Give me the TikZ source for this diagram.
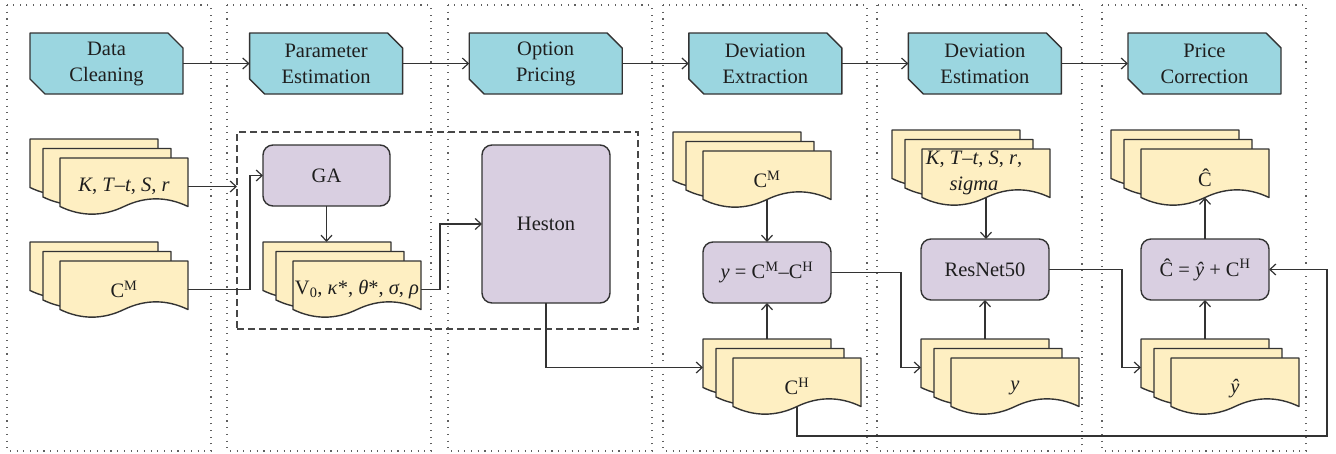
\documentclass[tikz,border=0pt]{standalone}
\usepackage{fontspec}
\setmainfont{Liberation Serif}
\usetikzlibrary{arrows.meta}

\definecolor{hdrfill}{HTML}{9BD6E0}
\definecolor{lav}{HTML}{D9CFE1}
\definecolor{paper}{HTML}{FEEFC2}
\definecolor{linec}{HTML}{333333}
\definecolor{textc}{HTML}{1E1E1E}
\definecolor{dotc}{HTML}{606060}

\newcommand\diagfont{\fontsize{20.5}{26}\selectfont}
\newcommand\ii[1]{\textit{#1}}

% stage header: chamfered box (top-right and bottom-left corners cut)
% #1 name, #2 left x, #3 top y, #4 text
\newcommand\stagebox[4]{%
  \filldraw[stageshape] (#2,#3) -- (#2+138,#3) -- (#2+153,#3+15) -- (#2+153,#3+61)
    -- (#2+15,#3+61) -- (#2,#3+46) -- cycle;
  \node[stagetext, anchor=north west] (#1) at (#2,#3) {#4};
}

% one sheet with a wavy lower edge, top-left corner at (#1,#2)
\newcommand\docsheet[2]{%
  \filldraw[sheet] (#1,#2) -- (#1+128,#2) -- (#1+128,#2+48.5)
    .. controls (#1+106.7,#2+38.3) and (#1+85.3,#2+38.3) .. (#1+64,#2+48.5)
    .. controls (#1+42.7,#2+58.7) and (#1+21.3,#2+58.7) .. (#1,#2+48.5) -- cycle;
}

% stack of three sheets; #1 label options, #2 name, #3/#4 top-left of the back sheet, #5 text
\newcommand\docstack[5][]{%
  \docsheet{#3}{#4}
  \docsheet{#3+13}{#4+9.5}
  \docsheet{#3+30}{#4+19}
  \node[sheetbox, anchor=north west] (#2b) at (#3,#4) {};
  \node[sheetbox, anchor=north west] (#2) at (#3+30,#4+19) {};
  \node[doctext, #1] (#2-label) at (#2.center) {#5};
  \coordinate (#2w) at (#3+94,#4+67.5);
}

\begin{document}
\begin{tikzpicture}[x=1pt, y=-1pt,
  panel/.style={draw=dotc, line width=1.1pt, dash pattern=on 1.1pt off 5.6pt},
  group/.style={draw=linec!90, line width=1.3pt, dash pattern=on 7pt off 4pt,
    inner sep=0pt, outer sep=0pt},
  stageshape/.style={fill=hdrfill, draw=linec, line width=1.4pt, line join=round},
  stagetext/.style={align=center, font=\diagfont, text=textc,
    minimum width=153pt, minimum height=61pt, inner sep=0pt, outer sep=0pt},
  sheet/.style={fill=paper, draw=linec, line width=1.4pt, line join=round},
  sheetbox/.style={minimum width=128pt, minimum height=57pt, inner sep=0pt, outer sep=0pt},
  doctext/.style={align=center, font=\diagfont, text=textc, inner sep=0pt},
  proc/.style={fill=lav, draw=linec, line width=1.4pt, rounded corners=10pt,
    font=\diagfont, text=textc, inner sep=0pt, outer sep=0pt, anchor=north west},
  edge/.style={draw=linec, line width=1.2pt, -{Straight Barb[length=6pt,width=11pt]}},
]
\useasboundingbox (0,0) rectangle (1336,453);

% dotted stage panels
\draw[panel] (7,5) rectangle (211,451);
\draw[panel] (227,5) rectangle (431,451);
\draw[panel] (448,5) rectangle (652,451);
\draw[panel] (663,5) rectangle (867,451);
\draw[panel] (877,5) rectangle (1082,451);
\draw[panel] (1102,5) rectangle (1306,451);

% stage headers
\stagebox{h1}{30}{33}{Data\\Cleaning}
\stagebox{h2}{249.6}{33}{Parameter\\Estimation}
\stagebox{h3}{469.2}{33}{Option\\Pricing}
\stagebox{h4}{688.8}{33}{Deviation\\Extraction}
\stagebox{h5}{908.4}{33}{Deviation\\Estimation}
\stagebox{h6}{1128}{33}{Price\\Correction}

\draw[edge] (h1.east) -- (h2.west);
\draw[edge] (h2.east) -- (h3.west);
\draw[edge] (h3.east) -- (h4.west);
\draw[edge] (h4.east) -- (h5.west);
\draw[edge] (h5.east) -- (h6.west);

% calibration group
\node[group, minimum width=401pt, minimum height=197pt, anchor=north west] (gagroup) at (237,132) {};

% data stacks
\docstack{s1}{30}{139}{\ii{K}, \ii{T}–\ii{t}, \ii{S}, \ii{r}}
\docstack{s2}{30}{242}{C\textsuperscript{M}}
\docstack{s3}{263}{242}{V\textsubscript{0}, \ii{κ}*, \ii{θ}*, \ii{σ}, \ii{ρ}}
\docstack{s4}{673}{132}{C\textsuperscript{M}}
\docstack{s5}{703}{339}{C\textsuperscript{H}}
\docstack[xshift=-12pt, yshift=5pt]{s6}{892}{130}{\ii{K}, \ii{T}–\ii{t}, \ii{S}, \ii{r},\\\ii{sigma}}
\docstack[yshift=-2pt]{s7}{921}{339}{\ii{y}}
\docstack{s8}{1111}{130}{Ĉ}
\docstack[yshift=-2pt]{s9}{1141}{339}{\ii{ŷ}}

% processing blocks
\node[proc, minimum width=127pt, minimum height=61pt] (ga) at (263,145) {GA};
\node[proc, minimum width=128pt, minimum height=158pt] (heston) at (482,145) {Heston};
\node[proc, minimum width=128pt, minimum height=61pt] (ybox) at (703,242)
  {\ii{y} = C\textsuperscript{M}–C\textsuperscript{H}};
\node[proc, minimum width=128pt, minimum height=61pt] (resnet) at (921,239) {ResNet50};
\node[proc, minimum width=128pt, minimum height=61pt] (cbox) at (1141,239)
  {Ĉ = \ii{ŷ} + C\textsuperscript{H}};

\coordinate (loop) at (1327,436);

% connectors
\draw[edge] (s1.east) -- (s1.east -| gagroup.west);
\draw[edge] (s2.east) -- ++(62,0) |- (ga.west);
\draw[edge] (ga.south) -- (ga.south |- s3b.north);
\draw[edge] (s3.east) -- ++(19,0) |- (heston.west);
\draw[edge] (heston.south) |- (s5b.west);
\draw[edge] (s4w) -- (s4w |- ybox.north);
\draw[edge] (s5b.north) -- (s5b.north |- ybox.south);
\draw[edge] (ybox.east) -- ++(70,0) |- (s7b.west);
\draw[edge] (s5w) |- (loop) |- (cbox.east);
\draw[edge] (s6w) -- (s6w |- resnet.north);
\draw[edge] (s7b.north) -- (s7b.north |- resnet.south);
\draw[edge] (resnet.east) -- ++(73,0) |- (s9b.west);
\draw[edge] (s9b.north) -- (s9b.north |- cbox.south);
\draw[edge] (cbox.north) -- (cbox.north |- s8w);
\end{tikzpicture}
\end{document}
